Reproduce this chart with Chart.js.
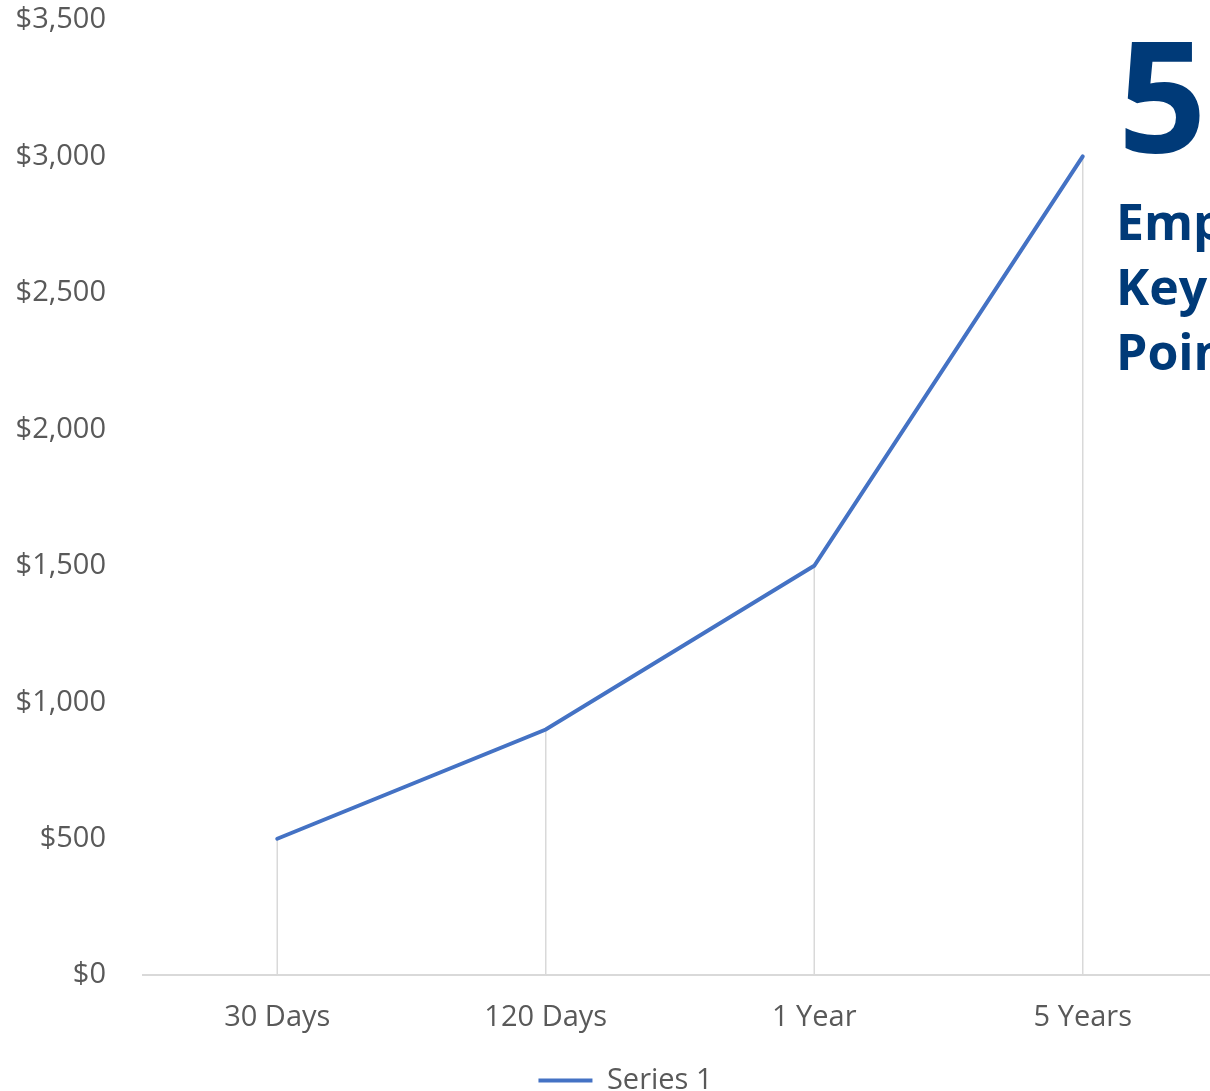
<!DOCTYPE html>
<html>
<head>
<meta charset="utf-8">
<script src="https://cdn.jsdelivr.net/npm/chart.js@4"></script>
<style>
  html, body { margin: 0; padding: 0; background: #fff; overflow: hidden; }
  #wrap { position: relative; width: 1210px; height: 1091px; overflow: hidden; }
  #chartBox { position: absolute; left: 0; top: 0; width: 1217px; height: 1105px; }
  #bigNum { position: absolute; left: 1118px; top: 14px; font: bold 155px "Open Sans", sans-serif; color: #003a78; line-height: 1; white-space: nowrap; }
  #blurb { position: absolute; left: 1116px; top: 189px; font: bold 50px "Open Sans", sans-serif; color: #003a78; line-height: 65px; white-space: nowrap; }
</style>
</head>
<body>
<div id="wrap">
  <div id="chartBox"><canvas id="myChart"></canvas></div>
  <div id="bigNum">5</div>
  <div id="blurb">Employee<br>Key<br>Points</div>
</div>
<script>
"use strict";

let categories = ["30 Days", "120 Days", "1 Year", "5 Years"];
let seriesValues = [500, 900, 1500, 3000];
let seriesName = "Series 1";
let yMax = 3500;
let yStep = 500;

let lineColor = "#4472c4";
let gridColor = "#d9d9d9";
let textColor = "#595959";
let fontFamily = "'Open Sans', sans-serif";

// vertical drop lines from each point down to the x axis
let dropLines = {
  id: "dropLines",
  beforeDatasetsDraw(chart) {
    let ctx = chart.ctx;
    let meta = chart.getDatasetMeta(0);
    let bottom = chart.scales.y.getPixelForValue(0);
    ctx.save();
    ctx.strokeStyle = gridColor;
    ctx.lineWidth = 1.5;
    for (let i = 0; i < meta.data.length; i++) {
      let pt = meta.data[i];
      ctx.beginPath();
      ctx.moveTo(pt.x, pt.y);
      ctx.lineTo(pt.x, bottom);
      ctx.stroke();
    }
    ctx.restore();
  }
};

// nudge the legend a bit to the right, like the original
let legendNudge = {
  id: "legendNudge",
  afterLayout(chart) {
    if (chart.legend) {
      chart.legend.left += 17;
      chart.legend.right += 17;
    }
  }
};

let ctx = document.getElementById("myChart").getContext("2d");
let myChart = new Chart(ctx, {
  type: "line",
  data: {
    labels: categories,
    datasets: [
      {
        label: seriesName,
        data: seriesValues,
        borderColor: lineColor,
        backgroundColor: lineColor,
        borderWidth: 4,
        borderCapStyle: "round",
        pointRadius: 0,
        tension: 0,
      },
    ],
  },
  options: {
    responsive: true,
    maintainAspectRatio: false,
    animation: false,
    layout: {
      padding: { top: 20, right: 0, left: 0, bottom: 0 },
    },
    scales: {
      x: {
        offset: true,
        grid: { display: false },
        border: { color: gridColor, width: 2 },
        ticks: {
          color: textColor,
          font: { family: fontFamily, size: 29 },
          padding: 17,
        },
      },
      y: {
        min: 0,
        max: yMax,
        grid: { display: false },
        border: { display: false },
        afterFit(scale) {
          scale.width = 143;
          scale.paddingTop = 0;
          scale.paddingBottom = 0;
        },
        ticks: {
          stepSize: yStep,
          color: textColor,
          padding: 29,
          font: { family: fontFamily, size: 29 },
          callback: function (value) {
            return "$" + value.toLocaleString("en-US");
          },
        },
      },
    },
    plugins: {
      legend: {
        position: "bottom",
        labels: {
          usePointStyle: true,
          pointStyle: "line",
          pointStyleWidth: 54,
          color: textColor,
          padding: 14,
          font: { family: fontFamily, size: 29 },
        },
      },
      tooltip: { enabled: false },
    },
  },
  plugins: [dropLines, legendNudge],
});
</script>
</body>
</html>
